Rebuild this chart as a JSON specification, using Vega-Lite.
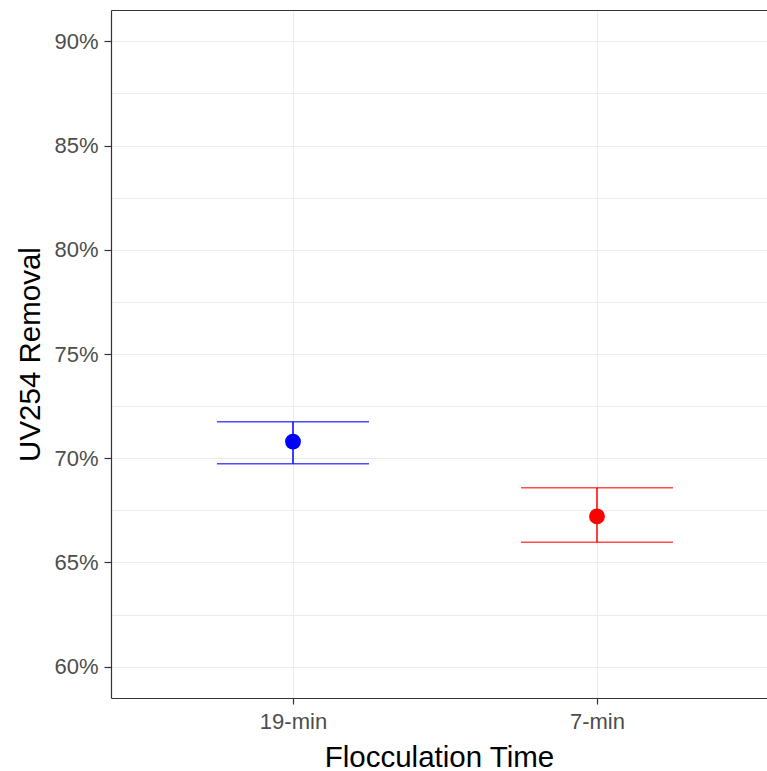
{
  "$schema": "https://vega.github.io/schema/vega-lite/v6.json",
  "width": 656,
  "height": 688,
  "autosize": {"type": "none"},
  "padding": {"left": 111, "top": 10, "right": 0, "bottom": 73},
  "background": "white",
  "config": {
    "view": {"stroke": null},
    "font": "Liberation Sans",
    "axis": {
      "labelFont": "Liberation Sans",
      "titleFont": "Liberation Sans",
      "labelColor": "#4d4d4d",
      "labelFontSize": 22,
      "titleFontSize": 29.5,
      "titleFontWeight": "normal",
      "titleColor": "#000000",
      "domainColor": "#333333",
      "domainWidth": 1.2,
      "tickColor": "#333333",
      "tickWidth": 1.2,
      "tickSize": 6,
      "gridColor": "#ebebeb",
      "gridWidth": 1.1
    }
  },
  "data": {
    "values": [
      {"time": "19-min", "mean": 0.708, "lo": 0.6973, "hi": 0.7175},
      {"time": "7-min", "mean": 0.6721, "lo": 0.6597, "hi": 0.6858}
    ]
  },
  "resolve": {"scale": {"x": "shared", "y": "shared"}, "axis": {"x": "independent"}},
  "layer": [
    {
      "mark": {"type": "rule", "strokeWidth": 1.5},
      "encoding": {
        "x": {
          "field": "time",
          "type": "nominal",
          "sort": ["19-min", "7-min"],
          "scale": {"type": "point", "domain": ["19-min", "7-min"], "padding": 0.579, "align": 0.517},
          "axis": {
            "orient": "bottom",
            "title": "Flocculation Time",
            "labelAngle": 0,
            "labelPadding": 7,
            "titlePadding": 11,
            "grid": true
          }
        },
        "y": {
          "field": "lo",
          "type": "quantitative",
          "title": "UV254 Removal",
          "scale": {"domain": [0.585, 0.915], "nice": false, "zero": false},
          "axis": {
            "values": [0.6, 0.625, 0.65, 0.675, 0.7, 0.725, 0.75, 0.775, 0.8, 0.825, 0.85, 0.875, 0.9],
            "labelExpr": "round(datum.value*1000) % 50 === 0 ? format(datum.value, '.0%') : ''",
            "tickOpacity": {"condition": {"test": "round(datum.value*1000) % 50 === 0", "value": 1}, "value": 0},
            "tickSize": 7,
            "labelPadding": 6,
            "titlePadding": 8,
            "grid": true
          }
        },
        "y2": {"field": "hi"},
        "color": {
          "field": "time",
          "type": "nominal",
          "scale": {"domain": ["19-min", "7-min"], "range": ["#0000ff", "#ff0000"]},
          "legend": null
        }
      }
    },
    {
      "mark": {"type": "tick", "size": 152, "thickness": 1.5},
      "encoding": {
        "x": {"field": "time", "type": "nominal", "axis": null},
        "y": {"field": "lo", "type": "quantitative", "title": "UV254 Removal"},
        "color": {"field": "time", "type": "nominal", "legend": null}
      }
    },
    {
      "mark": {"type": "tick", "size": 152, "thickness": 1.5},
      "encoding": {
        "x": {"field": "time", "type": "nominal", "axis": null},
        "y": {"field": "hi", "type": "quantitative", "title": "UV254 Removal"},
        "color": {"field": "time", "type": "nominal", "legend": null}
      }
    },
    {
      "mark": {"type": "point", "filled": true, "opacity": 1, "size": 250},
      "encoding": {
        "x": {
          "field": "time",
          "type": "nominal",
          "axis": {"orient": "top", "labels": false, "ticks": false, "title": null, "grid": false, "domain": true}
        },
        "y": {"field": "mean", "type": "quantitative", "title": "UV254 Removal"},
        "color": {"field": "time", "type": "nominal", "legend": null}
      }
    }
  ]
}
